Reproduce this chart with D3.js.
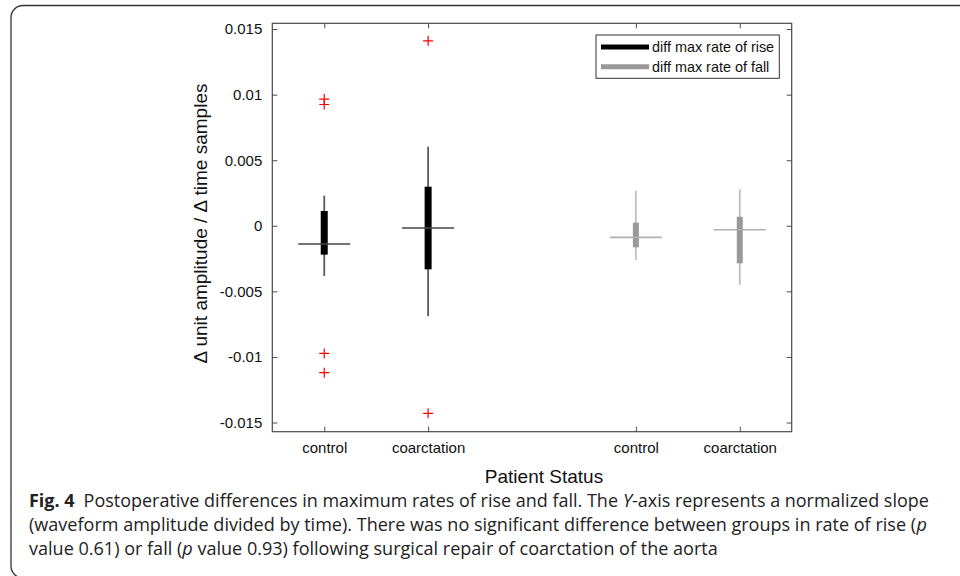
<!DOCTYPE html>
<html><head><meta charset="utf-8">
<script src="https://cdn.jsdelivr.net/npm/d3@7"></script>
<style>body{margin:0;background:#fff}svg{display:block}</style>
</head><body>
<svg id="c" width="960" height="576"></svg>
<script>
// ---- data ----
const categories = ["control", "coarctation", "control", "coarctation"];
const positions = [1, 2, 4, 5];
const series = ["rise", "rise", "fall", "fall"];
const whiskerHigh = [0.0023, 0.00604, 0.00268, 0.00279];
const q3 = [0.00113, 0.00298, 0.00024, 0.00069];
const medians = [-0.00139, -0.00017, -0.00088, -0.0003];
const q1 = [-0.0022, -0.00332, -0.00164, -0.00286];
const whiskerLow = [-0.00383, -0.00689, -0.00261, -0.00452];
const outliers = [[0.00966, 0.00925, -0.00973, -0.0112], [0.0141, -0.0143], [], []];
const yTicks = [-0.015, -0.01, -0.005, 0, 0.005, 0.01, 0.015];
const yTickLabels = ["-0.015", "-0.01", "-0.005", "0", "0.005", "0.01", "0.015"];
const legendLabels = ["diff max rate of rise", "diff max rate of fall"];
const captionLines = [
  [["Fig. 4", "b"], ["\u2002Postoperative differences in maximum rates of rise and fall. The ", ""], ["Y", "i"], ["-axis represents a normalized slope", ""]],
  [["(waveform amplitude divided by time). There was no significant difference between groups in rate of rise (", ""], ["p", "i"]],
  [["value 0.61) or fall (", ""], ["p", "i"], [" value 0.93) following surgical repair of coarctation of the aorta", ""]]
];

const svg = d3.select("#c");
const L = 272.3, R = 791.7, T = 23.3, B = 431.7;
const x = d3.scaleLinear().domain([0.5, 5.5]).range([L, R]);
const y = d3.scaleLinear().domain([-0.0157, 0.01544]).range([B, T]);
const style = {
  rise: {box: "#000", whisker: "#5a5a5a", median: "#444", boxW: 7},
  fall: {box: "#999", whisker: "#c0c0c0", median: "#b0b0b0", boxW: 6}
};

// outer frame
svg.append("path")
  .attr("d", "M975,5.5 L23,5.5 A12,12 0 0 0 11,17.5 L11,566 A12,12 0 0 0 23,578 L975,578")
  .attr("fill", "none").attr("stroke", "#333").attr("stroke-width", 1.3);

// axes box
const axCol = "#4a4a4a";
const g = svg.append("g");
const axL = g.append("g").attr("transform", `translate(${L},0)`)
  .call(d3.axisLeft(y).tickValues(yTicks).tickFormat((d, i) => yTickLabels[i]).tickSizeInner(-5).tickSizeOuter(0).tickPadding(10));
const axR = g.append("g").attr("transform", `translate(${R},0)`)
  .call(d3.axisRight(y).tickValues(yTicks).tickFormat("").tickSizeInner(-5).tickSizeOuter(0));
const axB = g.append("g").attr("transform", `translate(0,${B})`)
  .call(d3.axisBottom(x).tickValues(positions).tickFormat((d, i) => categories[i]).tickSizeInner(-5).tickSizeOuter(0).tickPadding(11));
const axT = g.append("g").attr("transform", `translate(0,${T})`)
  .call(d3.axisTop(x).tickValues(positions).tickFormat("").tickSizeInner(-5).tickSizeOuter(0));
[axL, axR, axB, axT].forEach(a => {
  a.select(".domain").remove();
  a.selectAll("line").attr("stroke", axCol);
  a.selectAll("text").attr("font-family", "Liberation Sans, Arial, sans-serif").attr("font-size", 15).attr("fill", "#111");
});
g.append("rect").attr("x", L).attr("y", T).attr("width", R - L).attr("height", B - T)
  .attr("fill", "none").attr("stroke", axCol).attr("stroke-width", 1.2);

// boxplots
const data = positions.map((p, i) => ({p, s: series[i], hi: whiskerHigh[i], q3: q3[i], med: medians[i], q1: q1[i], lo: whiskerLow[i], out: outliers[i]}));
const bx = svg.append("g");
data.forEach(d => {
  const st = style[d.s], cx = x(d.p);
  bx.append("line").attr("x1", cx).attr("x2", cx).attr("y1", y(d.hi)).attr("y2", y(d.lo))
    .attr("stroke", st.whisker).attr("stroke-width", 1.8);
  bx.append("rect").attr("x", cx - st.boxW / 2).attr("width", st.boxW)
    .attr("y", y(d.q3)).attr("height", y(d.q1) - y(d.q3)).attr("fill", st.box);
  bx.append("line").attr("x1", x(d.p - 0.25)).attr("x2", x(d.p + 0.25)).attr("y1", y(d.med)).attr("y2", y(d.med))
    .attr("stroke", st.median).attr("stroke-width", 1.6);
  d.out.forEach(v => {
    const oy = y(v);
    bx.append("path").attr("d", `M${cx - 5},${oy}H${cx + 5}M${cx},${oy - 5}V${oy + 5}`)
      .attr("stroke", "#f00").attr("stroke-width", 1.2).attr("fill", "none");
  });
});

// legend
const lg = svg.append("g");
lg.append("rect").attr("x", 596).attr("y", 35).attr("width", 183.3).attr("height", 43.3)
  .attr("fill", "#fff").attr("stroke", "#333").attr("stroke-width", 1);
[["#000", legendLabels[0], 47], ["#999", legendLabels[1], 66.7]].forEach(([c, t, ly]) => {
  lg.append("line").attr("x1", 601).attr("x2", 649).attr("y1", ly).attr("y2", ly).attr("stroke", c).attr("stroke-width", 5);
  lg.append("text").attr("x", 652).attr("y", ly + 5).text(t)
    .attr("font-family", "Liberation Sans, Arial, sans-serif").attr("font-size", 14.4).attr("fill", "#111");
});

// axis labels
svg.append("text").attr("transform", "translate(207,223.5) rotate(-90)").attr("text-anchor", "middle")
  .attr("font-family", "Liberation Sans, Arial, sans-serif").attr("font-size", 19).attr("fill", "#111")
  .text("\u0394 unit amplitude / \u0394 time samples");
svg.append("text").attr("x", 544).attr("y", 483).attr("text-anchor", "middle")
  .attr("font-family", "Liberation Sans, Arial, sans-serif").attr("font-size", 19).attr("fill", "#111")
  .text("Patient Status");

// caption: segments laid side by side, then the line is scaled horizontally to its width
const cf = "Open Sans, Noto Sans, sans-serif";
const lineY = [507, 531, 555], lineW = [900, 898, 689];
captionLines.forEach((segs, li) => {
  const lgp = svg.append("g");
  let cx = 0;
  segs.forEach(([t, s]) => {
    const te = lgp.append("text").attr("x", cx).attr("y", 0).attr("font-family", cf).attr("font-size", 18.5)
      .attr("fill", "#222").attr("xml:space", "preserve").style("white-space", "pre").text(t);
    if (s === "b") te.attr("font-weight", "bold");
    if (s === "i") te.attr("font-style", "italic");
    cx += te.node().getComputedTextLength();
  });
  lgp.attr("transform", `translate(29,${lineY[li]}) scale(${lineW[li] / cx},1)`);
});
</script>
</body></html>
